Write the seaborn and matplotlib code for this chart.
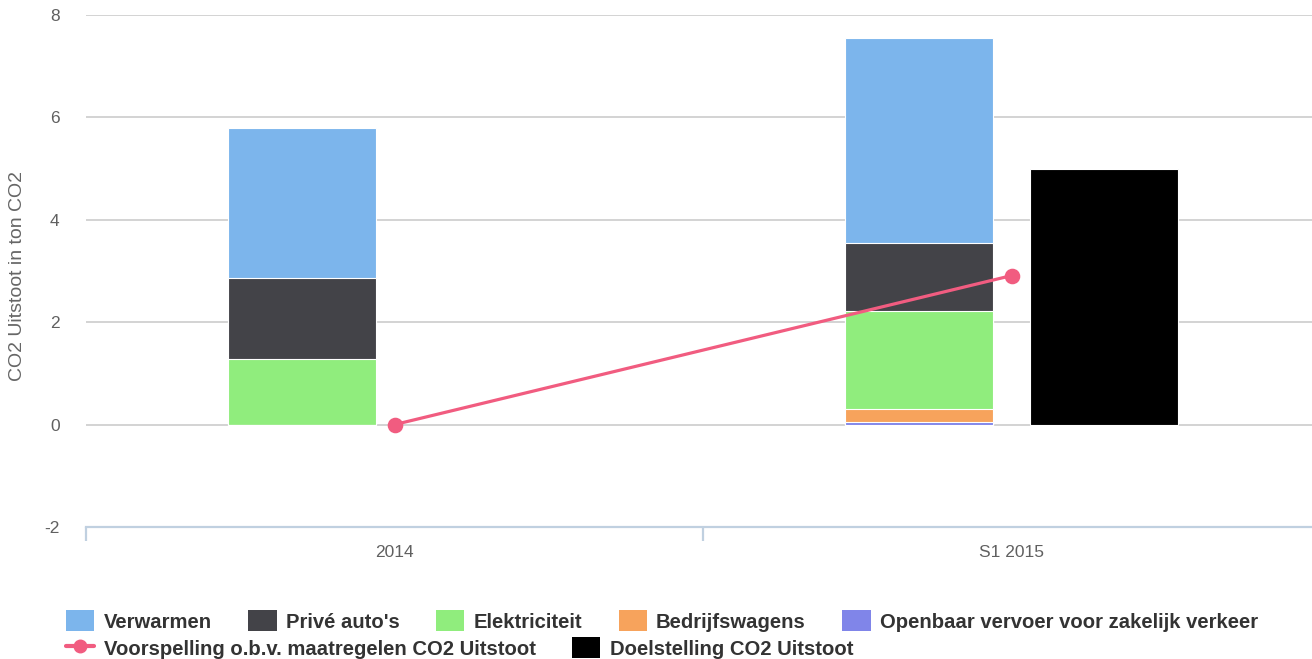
import numpy as np
import pandas as pd
import matplotlib
matplotlib.use("Agg")
import matplotlib.pyplot as plt
from matplotlib.patches import Patch
from matplotlib.lines import Line2D
import seaborn as sns

# data
jaren = ["2014", "S1 2015"]
verwarmen = [2.92, 4.01]
prive_autos = [1.59, 1.34]
elektriciteit = [1.28, 1.90]
bedrijfswagens = [0.0, 0.26]
openbaar_vervoer = [0.0, 0.05]
doelstelling = [np.nan, 5.0]
voorspelling = [0.0, 2.91]

series = ["Verwarmen", "Privé auto's", "Elektriciteit", "Bedrijfswagens",
          "Openbaar vervoer voor zakelijk verkeer"]
waarden = [verwarmen, prive_autos, elektriciteit, bedrijfswagens, openbaar_vervoer]
kleuren = ["#7cb5ec", "#434348", "#90ed7d", "#f7a35c", "#8085e9"]
lijn_kleur = "#f15c80"

sns.set_style("white")
plt.rcParams['font.family'] = ['Liberation Sans', 'DejaVu Sans']

# cumulative heights, bottom series first
rows = []
cum = np.zeros(len(jaren))
for naam, vals in zip(series[::-1], waarden[::-1]):
    cum = cum + np.array(vals)
    for j, c in zip(jaren, cum):
        rows.append({"jaar": j, "serie": naam, "groep": "stack", "top": c})
df = pd.DataFrame(rows)
df_doel = pd.DataFrame({"jaar": jaren, "groep": "doel", "top": doelstelling}).dropna()
df_lijn = pd.DataFrame({"jaar": jaren, "waarde": voorspelling})

fig = plt.figure(figsize=(13.12, 6.59), dpi=100)
ax = fig.add_axes([86 / 1312, 1 - 527 / 659, 1234 / 1312, 512 / 659])

groepen = ["stack", "doel"]
for naam, kleur in zip(series, kleuren):
    sub = df[df["serie"] == naam]
    sns.barplot(data=sub, x="jaar", y="top", hue="groep", order=jaren, hue_order=groepen,
                palette={"stack": kleur, "doel": kleur}, width=0.6, gap=0.2, dodge=True,
                saturation=1, edgecolor="white", linewidth=0.8, errorbar=None,
                legend=False, ax=ax, zorder=2)
sns.barplot(data=df_doel, x="jaar", y="top", hue="groep", order=jaren, hue_order=groepen,
            palette={"stack": "black", "doel": "black"}, width=0.6, gap=0.2, dodge=True,
            saturation=1, edgecolor="white", linewidth=0.8, errorbar=None,
            legend=False, ax=ax, zorder=2)
sns.pointplot(data=df_lijn, x="jaar", y="waarde", order=jaren, color=lijn_kleur,
              markers="o", markersize=9.5, linewidth=2.3, errorbar=None, ax=ax)
for coll in ax.collections + ax.lines:
    coll.set_zorder(4)

ax.set_xlim(-0.5, 1.5)
ax.set_ylim(-2, 8)
ax.set_yticks([-2, 0, 2, 4, 6, 8])
ax.set_yticklabels(["-2", "0", "2", "4", "6", "8"])
for y in [0, 2, 4, 6, 8]:
    ax.axhline(y, color="#c8c8c8", linewidth=1.1, zorder=0)

ax.set_xlabel("")
ax.set_ylabel("CO2 Uitstoot in ton CO2", fontsize=14, color="#666666", va="center")
ax.yaxis.set_label_coords((18 - 86) / 1234, 0.49)

for s in ["top", "left", "right"]:
    ax.spines[s].set_visible(False)
ax.spines["bottom"].set_color("#c0d0e0")
ax.spines["bottom"].set_linewidth(1.6)
ax.spines["bottom"].set_zorder(1)

ax.tick_params(axis="y", length=0, pad=19, labelsize=12.5, labelcolor="#606060")
ax.tick_params(axis="x", which="major", length=0, pad=13, labelsize=12.5, labelcolor="#606060")
ax.set_xticks([-0.5, 0.5, 1.5], minor=True)
ax.tick_params(axis="x", which="minor", bottom=True, length=10, width=1.6, color="#c0d0e0")

# legend, two rows like the original
fp = {"weight": "bold", "size": 14.6}
rij1 = [Patch(facecolor=k, edgecolor="none") for k in kleuren]
leg1 = fig.legend(rij1, series, loc="center left", bbox_to_anchor=(66 / 1312, 1 - 621 / 659),
                  ncol=5, frameon=False, prop=fp, borderpad=0, borderaxespad=0,
                  handlelength=1.4, handleheight=1.2, handletextpad=0.45, columnspacing=1.8)
rij2 = [Line2D([0], [0], color=lijn_kleur, linewidth=3, marker="o", markersize=9),
        Patch(facecolor="black", edgecolor="none")]
leg2 = fig.legend(rij2, ["Voorspelling o.b.v. maatregelen CO2 Uitstoot", "Doelstelling CO2 Uitstoot"],
                  loc="center left", bbox_to_anchor=(66 / 1312, 1 - 648 / 659),
                  ncol=2, frameon=False, prop=fp, borderpad=0, borderaxespad=0,
                  handlelength=1.4, handleheight=1.2, handletextpad=0.45, columnspacing=1.8)
for leg in (leg1, leg2):
    for t in leg.get_texts():
        t.set_color("#333333")

fig.savefig("out.png", dpi=100)
